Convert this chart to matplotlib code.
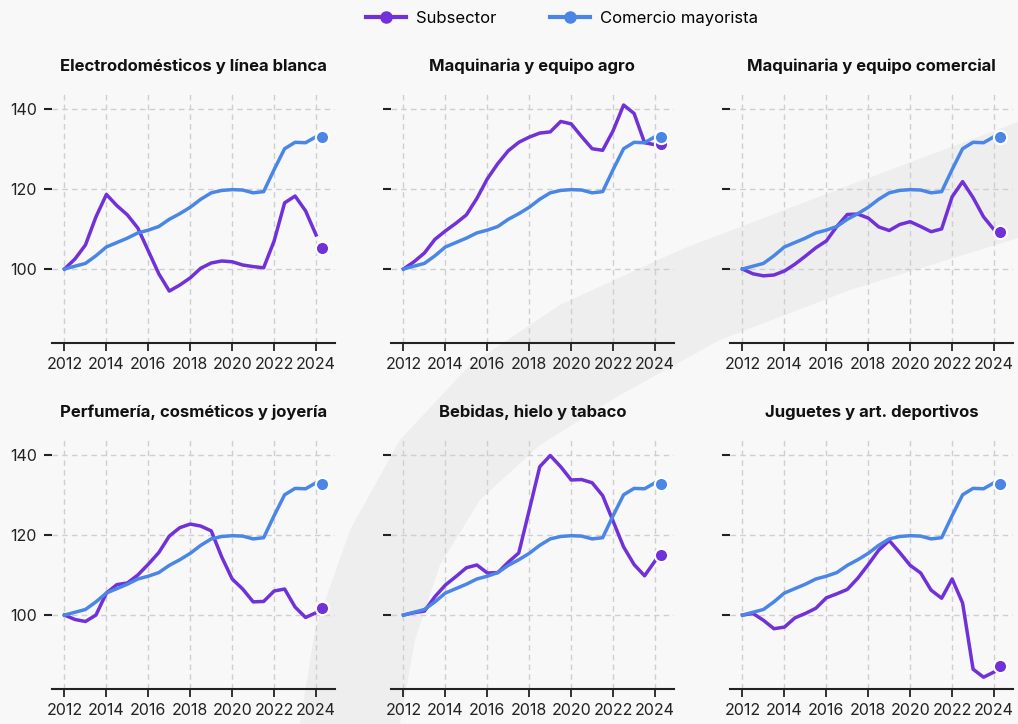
import matplotlib.pyplot as plt
from matplotlib.lines import Line2D
from matplotlib.patches import Polygon
import numpy as np

plt.rcParams['font.family'] = ['Inter', 'DejaVu Sans']

# half-year points, 2012 -> 2024 (index 2012 = 100)
years = np.arange(2012, 2024.5, 0.5)
last_year = 2024.3

mayorista = [100.0, 100.7, 101.4, 103.3, 105.5, 106.6, 107.7, 109.0, 109.7,
             110.6, 112.4, 113.8, 115.4, 117.4, 119.0, 119.6, 119.8, 119.7,
             119.0, 119.3, 124.8, 130.0, 131.6, 131.5, 133.0]
mayorista_last = 132.8

titles = ['Electrodomésticos y línea blanca', 'Maquinaria y equipo agro',
          'Maquinaria y equipo comercial', 'Perfumería, cosméticos y joyería',
          'Bebidas, hielo y tabaco', 'Juguetes y art. deportivos']

electro = [100.0, 102.5, 106.0, 113.0, 118.6, 115.8, 113.5, 110.2, 104.5,
           98.8, 94.5, 96.0, 97.8, 100.2, 101.5, 102.0, 101.8, 101.0,
           100.6, 100.3, 107.0, 116.5, 118.2, 114.5, 108.5]
agro = [100.0, 101.8, 104.0, 107.4, 109.5, 111.4, 113.5, 117.6, 122.5,
        126.3, 129.5, 131.6, 132.9, 133.9, 134.2, 136.8, 136.2, 133.0,
        130.0, 129.6, 134.5, 140.9, 138.8, 131.5, 131.0]
comercial = [100.0, 98.8, 98.3, 98.5, 99.5, 101.2, 103.2, 105.3, 107.0,
             110.6, 113.6, 113.7, 112.7, 110.5, 109.6, 111.1, 111.8, 110.6,
             109.3, 110.0, 118.0, 121.8, 117.8, 113.0, 109.8]
perfumeria = [100.0, 98.9, 98.4, 100.0, 105.5, 107.6, 108.0, 110.0, 112.7,
              115.6, 119.7, 121.8, 122.7, 122.2, 121.0, 114.5, 109.0, 106.5,
              103.3, 103.4, 106.0, 106.5, 102.0, 99.4, 100.6]
bebidas = [100.0, 100.6, 101.0, 104.6, 107.5, 109.6, 111.8, 112.5, 110.5,
           110.6, 113.2, 115.5, 126.2, 137.0, 139.8, 137.0, 133.7, 133.8,
           133.0, 129.8, 123.4, 117.0, 112.6, 109.8, 113.5]
juguetes = [100.0, 100.4, 98.7, 96.6, 97.0, 99.3, 100.4, 101.7, 104.3,
            105.3, 106.4, 109.2, 112.6, 116.2, 118.6, 115.6, 112.4, 110.5,
            106.2, 104.2, 109.0, 103.0, 86.5, 84.5, 85.8]
subsector = [electro, agro, comercial, perfumeria, bebidas, juguetes]
subsector_last = [105.3, 131.3, 109.2, 101.7, 115.0, 87.2]

PURPLE = '#7131D8'
BLUE = '#4A86E6'
W, H = 1018, 724

fig = plt.figure(figsize=(W / 100, H / 100), dpi=100, facecolor='#F8F8F8')

# decorative background swoosh (figure pixels, y from top)
outer = [(1018, 122), (850, 185), (680, 250), (560, 305), (470, 365),
         (400, 440), (350, 530), (315, 630), (300, 724)]
inner = [(400, 724), (415, 640), (440, 565), (480, 500), (540, 445),
         (620, 395), (720, 340), (850, 290), (1018, 238)]
pts = [(x / W, 1 - y / H) for x, y in outer + inner]
fig.patches.append(Polygon(pts, closed=True, transform=fig.transFigure,
                           facecolor='#EEEEEE', edgecolor='none', zorder=0))

lefts = [0.051, 0.384, 0.717]
bottoms = [0.526, 0.048]

for i, title in enumerate(titles):
    ax = fig.add_axes([lefts[i % 3], bottoms[i // 3], 0.278, 0.345])
    ax.set_zorder(2)
    ax.set_facecolor('none')
    ax.plot(years, subsector[i], color=PURPLE, lw=2.5, zorder=3)
    ax.plot(years, mayorista, color=BLUE, lw=2.5, zorder=3)
    ax.plot([last_year], [subsector_last[i]], 'o', color=PURPLE, ms=9.5,
            mec='white', mew=1.5, zorder=4)
    ax.plot([last_year], [mayorista_last], 'o', color=BLUE, ms=9.5,
            mec='white', mew=1.5, zorder=5)

    ax.set_xlim(2011.4, 2024.9)
    ax.set_ylim(81.5, 143.8)
    ax.set_xticks(range(2012, 2025, 2))
    ax.set_yticks([100, 120, 140])
    ax.grid(True, ls=(0, (4, 3)), color='#CFCFCF', lw=1)
    for s in ['top', 'right', 'left']:
        ax.spines[s].set_visible(False)
    ax.spines['bottom'].set_color('#222222')
    ax.spines['bottom'].set_linewidth(1.5)
    ax.tick_params(axis='y', length=6, width=1.5, color='#222222',
                   labelsize=11.5, pad=5, labelcolor='#222222')
    ax.tick_params(axis='x', length=6, width=1.3, color='#222222',
                   labelsize=11.5, pad=4, labelcolor='#222222')
    if i % 3:
        ax.tick_params(labelleft=False)
    ax.set_title(title, fontsize=12, fontweight='bold', pad=16,
                 color='#111111')

handles = [Line2D([], [], color=PURPLE, lw=3, marker='o', ms=8),
           Line2D([], [], color=BLUE, lw=3, marker='o', ms=8)]
fig.legend(handles, ['Subsector', 'Comercio mayorista'], loc='center',
           bbox_to_anchor=(0.552, 0.975), ncol=2, frameon=False, fontsize=12,
           handlelength=2.4, handletextpad=0.6, columnspacing=3.2)

fig.savefig('out.png', dpi=100, facecolor=fig.get_facecolor())
